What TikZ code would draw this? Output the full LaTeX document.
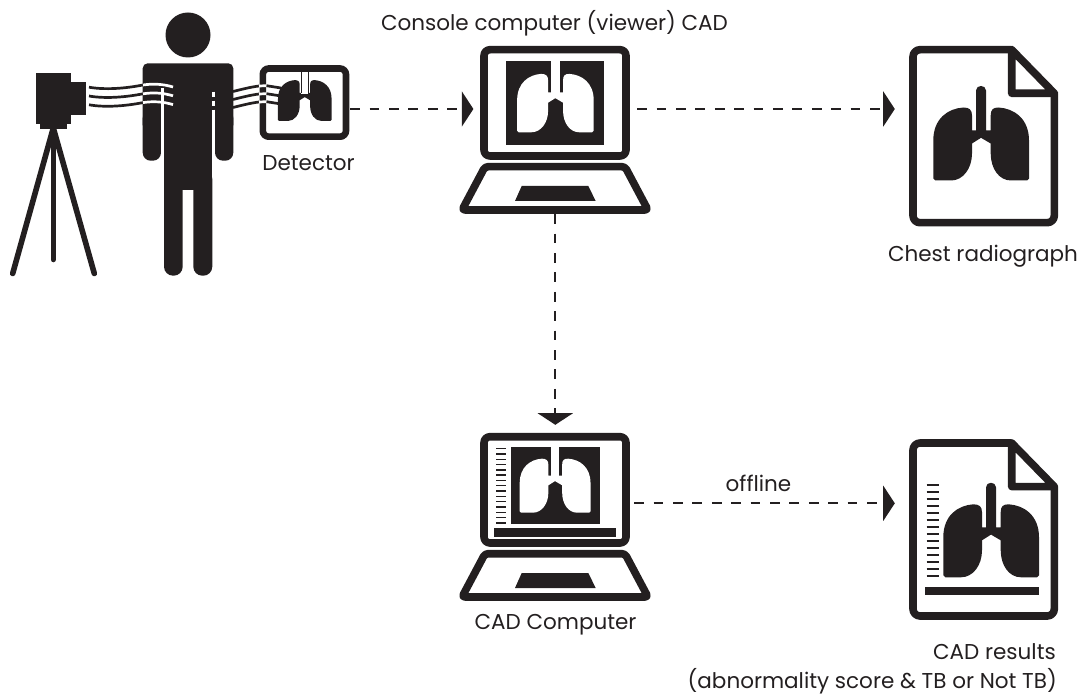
\documentclass[tikz,border=0pt]{standalone}
\usepackage{fontspec}
\setmainfont{Poppins}
\usetikzlibrary{arrows.meta}
\definecolor{ink}{HTML}{231F20}
\tikzset{
  hub/.style={inner sep=0pt,minimum width=#1},
  label/.style={inner sep=0pt,text=ink,font=\fontsize{21.5}{26}\selectfont},
  flow/.style={ink,line width=2.2pt,dash pattern=on 9.7pt off 9.7pt,-{Triangle[length=11.6pt,width=35pt,sep=0pt]}},
  outline/.style={draw=ink,line width=7.6pt,line join=round},
  beam/.style={ink,line width=2.7pt},
  whitebeam/.style={white,line width=2.7pt},
  lungs/.pic={
    \fill[pic actions] (-47.7,48) -- (-47.7,10) .. controls (-47.7,-12) and (-33,-22) .. (-17.7,-23)
      .. controls (-12,-23) and (-9,-21) .. (-9,-15) -- (-9,0) -- (-5,0) -- (-5,-40)
      .. controls (-5,-46) and (5,-46) .. (5,-40) -- (5,0) -- (9.7,0) -- (9.7,-15)
      .. controls (9.7,-21) and (12,-23) .. (17.7,-23) .. controls (33,-22) and (48,-12) .. (48,10)
      -- (48,48) -- (46,50) -- (30,50) .. controls (18,50) and (9.7,38) .. (9.7,23) -- (9.7,13) -- (0,7.3) -- (-9,13) -- (-9,23)
      .. controls (-9,38) and (-18,50) .. (-30,50) -- (-45.7,50) -- cycle;
  },
  laptop/.pic={
    \draw[outline,rounded corners=6pt] (484,49.7) rectangle (626,156);
    \draw[outline,rounded corners=3pt] (485,166.7) -- (625,166.7) -- (648,210) -- (462,210) -- cycle;
    \fill[ink] (521.7,186) -- (588.3,186) -- (595.7,201) -- (515,201) -- cycle;
  },
  document/.pic={
    \draw[outline,rounded corners=7pt] (1011.7,49.7) -- (913,49.7) -- (913,222.7) -- (1054.3,222.7) -- (1054.3,93.3);
    \draw[outline] (1011.7,49.7) -- (1054.3,93.3) -- (1011.7,93.3) -- cycle;
  }
}
\begin{document}
\begin{tikzpicture}[x=1pt,y=-1pt]
\useasboundingbox (0,0) rectangle (1084,695);
% anchors for the connectors
\node[hub=100pt,minimum height=20pt] (detector) at (300,109) {};
\node[hub=163.4pt,minimum height=210pt] (viewer) at (555.3,109) {};
\node[hub=169pt,minimum height=20pt] (report) at (979.5,109) {};
\node[hub=157.4pt,minimum height=156.6pt] (cad) at (555.3,503.3) {};
\node[hub=169pt,minimum height=20pt] (results) at (979.5,503.3) {};

% camera and tripod
\fill[ink] (36,72.7) rectangle (71,124);
\fill[ink] (71,81.7) rectangle (86,115);
\fill[ink] (40,124) rectangle (66.7,128.7);
\draw[ink,line width=5.6pt,line cap=round] (53.3,128) -- (12.7,273.5);
\draw[ink,line width=5.6pt,line cap=round] (53.3,128) -- (94.3,273.5);
\draw[ink,line width=5.6pt,line cap=round] (53.3,128) -- (53.3,259.5);

% person
\fill[ink] (188,35) circle[radius=22.5pt];
\fill[ink,rounded corners=5pt] (142.7,130) -- (142.7,63.3) -- (233.3,63.3) -- (233.3,130) -- cycle;
\fill[ink] (142.7,100) rectangle (233.3,125);
\fill[ink,rounded corners=8pt] (142.7,110) rectangle (161,160.7);
\fill[ink,rounded corners=8pt] (215,110) rectangle (233.3,160.7);
\fill[ink] (164,100) rectangle (212.3,190);
\fill[ink,rounded corners=9pt] (164,170) rectangle (182.7,275.7);
\fill[ink,rounded corners=9pt] (193.3,170) rectangle (212.3,275.7);
\fill[ink] (164,170) rectangle (182.7,185);
\fill[ink] (193.3,170) rectangle (212.3,185);
\fill[ink] (180,170) rectangle (196,185);
\draw[white,line width=2.8pt] (162.4,88) -- (162.4,161);
\draw[white,line width=2.8pt,dash pattern=on 5pt off 4pt] (213.7,91.7) -- (213.7,110);
\draw[white,line width=2.8pt] (213.7,110) -- (213.7,161);

% x-ray beams, left of the body
\foreach \d in {0,8.8,17.6}{
  \draw[beam] (89,87.2+\d) .. controls (105,90+\d) and (125,88.5+\d) .. (143,85+\d);
  \draw[whitebeam] (143,85+\d) .. controls (153,83.5+\d) and (163,84+\d) .. (173,87+\d);
}
% x-ray beams, right of the body
\foreach \d in {0,8,16}{
  \draw[beam] (233,91.5+\d) .. controls (243,89+\d) and (251,87+\d) .. (259,86+\d);
}

% detector
\draw[draw=ink,line width=6.6pt,rounded corners=6pt] (262.8,68.5) rectangle (346,136.7);
\foreach \d in {0,8,16}{
  \draw[whitebeam] (259,86+\d) -- (266.5,85.7+\d);
  \draw[beam] (266.5,85.7+\d) -- (281,88+\d);
}
\pic[fill=ink,scale=.56] at (304.7,93) {lungs};
\fill[white] (301.4,71.8) rectangle (308,94);
\draw[ink,line width=1.1pt] (301.2,71.8) -- (301.2,93.5);
\draw[ink,line width=1.1pt] (308.2,71.8) -- (308.2,93.5);

% console computer
\pic at (0,0) {laptop};
\fill[ink] (506,60.7) rectangle (604.3,145);
\pic[fill=white,scale=.8] at (555.3,92.3) {lungs};
\fill[white] (551,60.7) rectangle (559.6,93);

% chest radiograph
\pic at (0,0) {document};
\pic[fill=ink] at (981,130.5) {lungs};

% CAD computer
\pic at (0,387) {laptop};
\fill[ink] (510.7,447.3) rectangle (600,524.3);
\pic[fill=white,scale=.74] at (555,475.7) {lungs};
\fill[white] (551,447.3) rectangle (559.3,476);
\foreach \i in {0,...,14}
  \draw[ink,line width=1.4pt] (496,448.6+5.3*\i) -- (506,448.6+5.3*\i);
\fill[ink] (494,528.3) rectangle (616,537);

% CAD results
\pic at (0,393.3) {document};
\pic[fill=ink] at (991,527.3) {lungs};
\foreach \i in {0,...,13}
  \draw[ink,line width=1.4pt] (926.7,485+7*\i) -- (939,485+7*\i);
\fill[ink] (925,587) rectangle (1039,595);

% connectors
\draw[flow] (detector.east) -- (viewer.west);
\draw[flow] (viewer.east) -- (report.west);
\draw[flow] (viewer.south) -- (cad.north);
\draw[flow] (cad.east) -- (results.west);

% texts
\node[label,anchor=base] (consolelabel) at (554.5,31) {Console computer (viewer) CAD};
\node[label,anchor=base] (detectorlabel) at (308.5,171) {Detector};
\node[label,anchor=base] (chestlabel) at (983,261) {Chest radiograph};
\node[label,anchor=base] (cadlabel) at (555.5,629) {CAD Computer};
\node[label,anchor=base] (offlinelabel) at (758.5,491) {offline};
\node[label,anchor=base east] (resultslabel) at (1056,659) {CAD results};
\node[label,anchor=base east] (abnormlabel) at (1057,688) {(abnormality score \& TB or Not TB)};
\end{tikzpicture}
\end{document}
